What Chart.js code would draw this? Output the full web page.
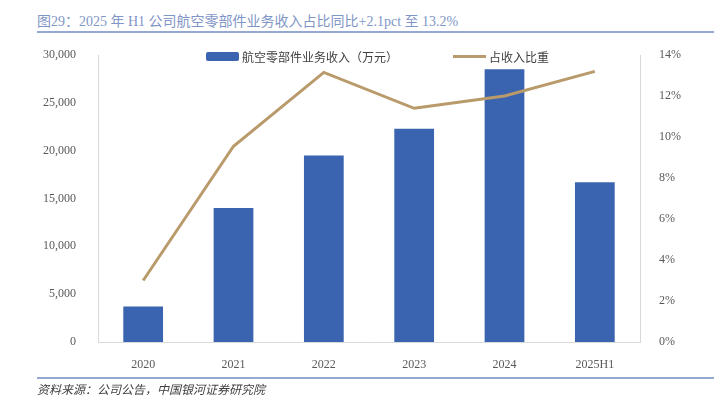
<!DOCTYPE html>
<html lang="zh">
<head>
    <meta charset="UTF-8">
    <title>航空零部件业务收入</title>
    <script src="https://cdn.jsdelivr.net/npm/chart.js"></script>
    <style>
        body { margin: 0; width: 714px; height: 395px; overflow: hidden; background: #fff; position: relative; }
        .title {
            position: absolute; left: 37px; top: 10px;
            font: 14px "Liberation Serif", "Noto Sans CJK SC", serif;
            color: #7f96c6;
        }
        .rule { position: absolute; left: 37px; right: 0; height: 2px; background: #94a8d2; }
        .source {
            position: absolute; left: 37px; top: 380px;
            font: italic 12px "Liberation Serif", "Noto Sans CJK SC", serif;
            color: #404040;
        }
        .chart { position: absolute; left: 0; top: 0; width: 714px; height: 395px; }
        .legend {
            position: absolute; top: 48px; font: 12px "Noto Sans CJK SC", sans-serif; color: #404040;
            display: flex; align-items: center;
        }
        .legend span.sw { display: inline-block; margin-right: 3px; }
    </style>
</head>
<body>
    <div class="title">图29：2025 年 H1 公司航空零部件业务收入占比同比+2.1pct 至 13.2%</div>
    <div class="rule" style="top:31px"></div>
    <div class="chart"><canvas id="chart1" width="714" height="395"></canvas></div>
    <div class="legend" style="left:206px"><span class="sw" style="width:33px;height:9px;background:#3a64b0;border-radius:2px"></span>航空零部件业务收入（万元）</div>
    <div class="legend" style="left:453px"><span class="sw" style="width:33px;height:3px;background:#b99a6b"></span>占收入比重</div>
    <div class="rule" style="top:377px"></div>
    <div class="source">资料来源：公司公告，中国银河证券研究院</div>

    <script>
        // dados
        const categories = ['2020', '2021', '2022', '2023', '2024', '2025H1'];
        const revenue = [3700, 14000, 19500, 22300, 28500, 16700];
        const share = [3.0, 9.55, 13.15, 11.4, 12.0, 13.2];
        const leftTicks = [0, 5000, 10000, 15000, 20000, 25000, 30000];
        const rightTicks = [0, 2, 4, 6, 8, 10, 12, 14];

        const tickFont = { family: '"Liberation Serif", serif', size: 12 };
        const axisColor = '#d9d9d9';

        new Chart(document.getElementById('chart1'), {
            data: {
                labels: categories,
                datasets: [
                    {
                        type: 'line',
                        label: '占收入比重',
                        data: share,
                        yAxisID: 'y2',
                        borderColor: '#b99a6b',
                        borderWidth: 3,
                        pointRadius: 0,
                        tension: 0
                    },
                    {
                        type: 'bar',
                        label: '航空零部件业务收入（万元）',
                        data: revenue,
                        yAxisID: 'y',
                        backgroundColor: '#3a64b0',
                        barPercentage: 0.44,
                        categoryPercentage: 1
                    }
                ]
            },
            options: {
                responsive: false,
                animation: false,
                layout: { padding: { top: 55, left: 0, right: 0, bottom: 0 } },
                plugins: { legend: { display: false }, tooltip: { enabled: false } },
                scales: {
                    x: {
                        grid: { display: false },
                        border: { color: axisColor },
                        ticks: { color: '#595959', font: tickFont, padding: 8, maxRotation: 0 },
                        afterFit: s => { s.height = 53; }
                    },
                    y: {
                        position: 'left',
                        min: 0, max: 30000,
                        afterBuildTicks: s => { s.ticks = leftTicks.map(v => ({ value: v })); },
                        grid: { display: false },
                        border: { color: axisColor },
                        ticks: {
                            color: '#595959', font: tickFont, padding: 14,
                            callback: v => v.toLocaleString('en-US')
                        },
                        afterFit: s => { s.width = 98; }
                    },
                    y2: {
                        position: 'right',
                        min: 0, max: 14,
                        afterBuildTicks: s => { s.ticks = rightTicks.map(v => ({ value: v })); },
                        grid: { display: false },
                        border: { color: axisColor },
                        ticks: { color: '#595959', font: tickFont, padding: 11, callback: v => v + '%' },
                        afterFit: s => { s.width = 74; }
                    }
                }
            }
        });
    </script>
</body>
</html>
